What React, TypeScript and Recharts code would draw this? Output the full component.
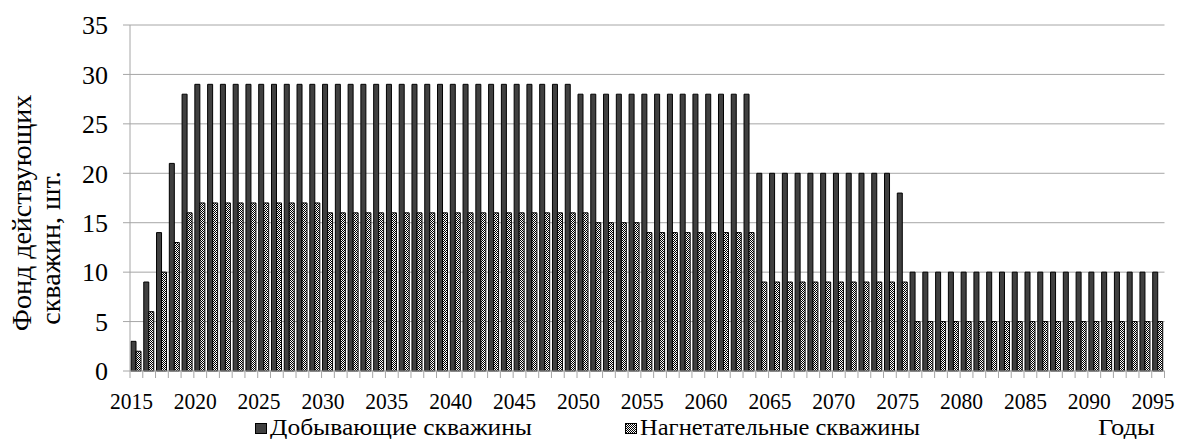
import React from 'react'
import { BarChart, Bar, XAxis, YAxis, CartesianGrid } from 'recharts'

// Years on the category axis
const years = [
  2015, 2016, 2017, 2018, 2019, 2020, 2021, 2022, 2023, 2024,
  2025, 2026, 2027, 2028, 2029, 2030, 2031, 2032, 2033, 2034,
  2035, 2036, 2037, 2038, 2039, 2040, 2041, 2042, 2043, 2044,
  2045, 2046, 2047, 2048, 2049, 2050, 2051, 2052, 2053, 2054,
  2055, 2056, 2057, 2058, 2059, 2060, 2061, 2062, 2063, 2064,
  2065, 2066, 2067, 2068, 2069, 2070, 2071, 2072, 2073, 2074,
  2075, 2076, 2077, 2078, 2079, 2080, 2081, 2082, 2083, 2084,
  2085, 2086, 2087, 2088, 2089, 2090, 2091, 2092, 2093, 2094,
  2095,
]

// Добывающие скважины
const producing = [
  3, 9, 14, 21, 28, 29, 29, 29, 29, 29,
  29, 29, 29, 29, 29, 29, 29, 29, 29, 29,
  29, 29, 29, 29, 29, 29, 29, 29, 29, 29,
  29, 29, 29, 29, 29, 28, 28, 28, 28, 28,
  28, 28, 28, 28, 28, 28, 28, 28, 28, 20,
  20, 20, 20, 20, 20, 20, 20, 20, 20, 20,
  18, 10, 10, 10, 10, 10, 10, 10, 10, 10,
  10, 10, 10, 10, 10, 10, 10, 10, 10, 10,
  10,
]

// Нагнетательные скважины
const injection = [
  2, 6, 10, 13, 16, 17, 17, 17, 17, 17,
  17, 17, 17, 17, 17, 16, 16, 16, 16, 16,
  16, 16, 16, 16, 16, 16, 16, 16, 16, 16,
  16, 16, 16, 16, 16, 16, 15, 15, 15, 15,
  14, 14, 14, 14, 14, 14, 14, 14, 14, 9,
  9, 9, 9, 9, 9, 9, 9, 9, 9, 9,
  9, 5, 5, 5, 5, 5, 5, 5, 5, 5,
  5, 5, 5, 5, 5, 5, 5, 5, 5, 5,
  5,
]

const yTicks = [0, 5, 10, 15, 20, 25, 30, 35]

const data = years.map((year, i) => ({ year, producing: producing[i], injection: injection[i] }))

const FONT = "'Liberation Serif', 'Times New Roman', serif"
const W = 1187
const H = 439
const PLOT_LEFT = 130
const PLOT_RIGHT = 1164.5
const STEP = (PLOT_RIGHT - PLOT_LEFT) / years.length
const GRID = '#a6a6a6'
const DARK = '#404040'

const YearTick = (props: any) => {
  const { x, y, payload } = props
  const index = props.index ?? payload.index
  const left = x - STEP / 2
  const last = index === years.length - 1
  return (
    <g>
      <line x1={left} x2={left} y1={y} y2={y + 7} stroke={GRID} />
      {last && <line x1={x + STEP / 2} x2={x + STEP / 2} y1={y} y2={y + 7} stroke={GRID} />}
      {index % 5 === 0 && (
        <text x={x - 5} y={y + 38} textAnchor="middle" fontSize={24} fontFamily={FONT} fill="#000"
          textLength={43} lengthAdjust="spacingAndGlyphs">
          {payload.value}
        </text>
      )}
    </g>
  )
}

const Checker = ({ id }: { id: string }) => (
  <pattern id={id} width="2" height="2" patternUnits="userSpaceOnUse">
    <rect width="2" height="2" fill="#fff" />
    <rect width="1" height="1" fill="#000" />
    <rect x="1" y="1" width="1" height="1" fill="#000" />
  </pattern>
)

export default function App() {
  return (
    <div style={{ position: 'absolute', left: 0, top: 0, width: W, height: H, background: '#fff', fontFamily: FONT }}>
      <BarChart
        width={W} height={H} data={data}
        margin={{ top: 25, right: W - PLOT_RIGHT, left: 0, bottom: 28 }}
        barGap={0} barSize={5}
      >
        <defs>
          <Checker id="checker" />
        </defs>
        <CartesianGrid vertical={false} stroke={GRID} />
        <XAxis
          dataKey="year" interval={0} height={40}
          axisLine={{ stroke: GRID }} tickLine={false} tickSize={0} tickMargin={0}
          tick={<YearTick />}
        />
        <YAxis
          width={PLOT_LEFT} domain={[0, 35]} ticks={yTicks} interval={0}
          axisLine={{ stroke: GRID }} tickLine={{ stroke: GRID }} tickSize={7} tickMargin={15}
          tick={{ fontSize: 26, fontFamily: FONT, fill: '#000' }}
        />
        <Bar dataKey="producing" fill={DARK} stroke="#000" strokeWidth={1} isAnimationActive={false} />
        <Bar dataKey="injection" fill="url(#checker)" stroke="#000" strokeWidth={1} isAnimationActive={false} />
      </BarChart>

      <svg width={W} height={H} style={{ position: 'absolute', left: 0, top: 0, pointerEvents: 'none' }}>
        <defs>
          <Checker id="checker2" />
        </defs>
        <text transform="translate(31,213) rotate(-90)" textAnchor="middle" fontSize={28} fontFamily={FONT} fill="#000">
          Фонд действующих
        </text>
        <text transform="translate(60,248) rotate(-90)" textAnchor="middle" fontSize={28} fontFamily={FONT} fill="#000">
          скважин, шт.
        </text>
        <rect x={255.5} y={423.5} width={11} height={10} fill={DARK} stroke="#000" />
        <text x={270} y={435} fontSize={23} fontFamily={FONT} fill="#000" textLength={262} lengthAdjust="spacingAndGlyphs">
          Добывающие скважины
        </text>
        <rect x={625.5} y={423.5} width={11} height={10} fill="url(#checker2)" stroke="#000" />
        <text x={640} y={435} fontSize={23} fontFamily={FONT} fill="#000" textLength={280} lengthAdjust="spacingAndGlyphs">
          Нагнетательные скважины
        </text>
        <text x={1098} y={435} fontSize={23} fontFamily={FONT} fill="#000" textLength={57} lengthAdjust="spacingAndGlyphs">
          Годы
        </text>
      </svg>
    </div>
  )
}
